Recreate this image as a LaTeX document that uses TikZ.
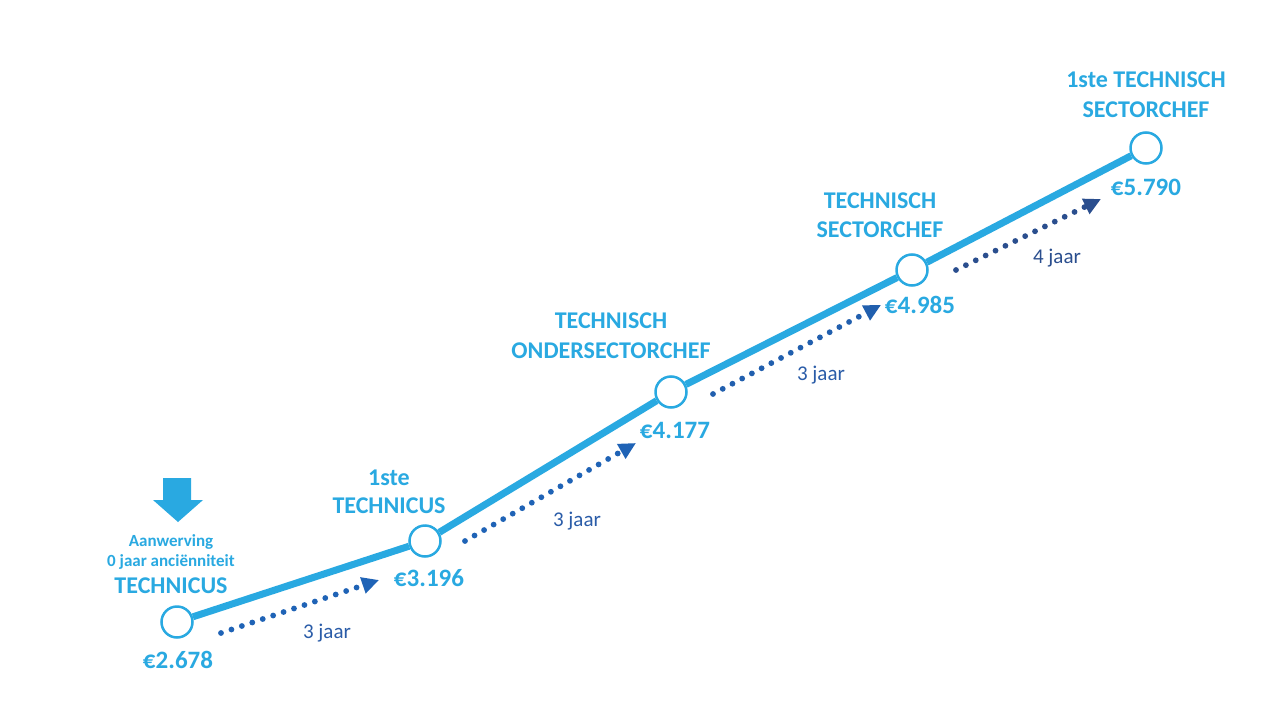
\documentclass[tikz,border=0pt]{standalone}
\usepackage{fontspec}
\setmainfont{Carlito}
\usetikzlibrary{arrows.meta}
\definecolor{stepblue}{HTML}{29A9E1}
\definecolor{dotblue}{HTML}{1F63B6}
\definecolor{darkdot}{HTML}{2A4E8E}
\definecolor{yearblue}{HTML}{2A5CA8}

\begin{document}
\begin{tikzpicture}[x=1pt, y=-1pt,
    grade/.style={circle, draw=stepblue, fill=white, line width=2.5pt, minimum size=31pt, inner sep=0pt},
    rung/.style={stepblue, line width=7pt},
    title/.style={anchor=base, text=stepblue, font=\fontsize{24}{28}\selectfont\bfseries},
    pay/.style={anchor=base, text=stepblue, font=\fontsize{25}{30}\selectfont\bfseries},
    note/.style={anchor=base, text=stepblue, font=\fontsize{17}{20}\selectfont\bfseries},
    years/.style={anchor=base, font=\fontsize{21}{24}\selectfont},
    wait/.style={line width=5.8pt, line cap=round, dash pattern=on 0pt off 11pt,
        -{Triangle[length=17pt, width=16pt]}}]
    \useasboundingbox (0,0) rectangle (1280,720);
    \fill[white] (0,0) rectangle (1280,720);

    \node[grade] (s1) at (177,622) {};
    \node[grade] (s2) at (425,541) {};
    \node[grade] (s3) at (671,392) {};
    \node[grade] (s4) at (912,270) {};
    \node[grade] (s5) at (1146,148) {};
    \foreach \a/\b in {s1/s2, s2/s3, s3/s4, s4/s5}
        \draw[rung] (\a) -- (\b);

    % start
    \fill[stepblue] (163,478) -- (191,478) -- (191,500) -- (203,500) -- (178,522)
        -- (153,500) -- (163,500) -- cycle;
    \node[note] (hire) at (171,546) {Aanwerving};
    \node[note] (senior) at (171,566) {0 jaar anciënniteit};
    \node[title] (t1) at (171,593) {TECHNICUS};
    \node[pay] (p1) at (178,668) {€2.678};

    \node[title] (t2a) at (389,485) {1ste};
    \node[title] (t2b) at (389,513) {TECHNICUS};
    \node[pay] (p2) at (429,586) {€3.196};

    \node[title] (t3a) at (611,328) {TECHNISCH};
    \node[title] (t3b) at (611,358) {ONDERSECTORCHEF};
    \node[pay] (p3) at (675,438) {€4.177};

    \node[title] (t4a) at (880,208) {TECHNISCH};
    \node[title] (t4b) at (880,237) {SECTORCHEF};
    \node[pay] (p4) at (920,313) {€4.985};

    \node[title] (t5a) at (1146,87) {1ste TECHNISCH};
    \node[title] (t5b) at (1146,117) {SECTORCHEF};
    \node[pay] (p5) at (1146,195) {€5.790};

    % waiting times
    \coordinate (w1a) at (221,633);
    \coordinate (w1b) at (379,580);
    \coordinate (w2a) at (465,541);
    \coordinate (w2b) at (636,443);
    \coordinate (w3a) at (713,394);
    \coordinate (w3b) at (881,305);
    \coordinate (w4a) at (956,270);
    \coordinate (w4b) at (1101,199);
    \draw[wait, dotblue] (w1a) -- (w1b);
    \draw[wait, dotblue] (w2a) -- (w2b);
    \draw[wait, dotblue!80!darkdot] (w3a) -- (w3b);
    \draw[wait, darkdot] (w4a) -- (w4b);
    \node[years, text=yearblue] (y1) at (327,638) {3 jaar};
    \node[years, text=yearblue] (y2) at (577,526) {3 jaar};
    \node[years, text=yearblue] (y3) at (821,380) {3 jaar};
    \node[years, text=darkdot] (y4) at (1057,263) {4 jaar};
\end{tikzpicture}
\end{document}
